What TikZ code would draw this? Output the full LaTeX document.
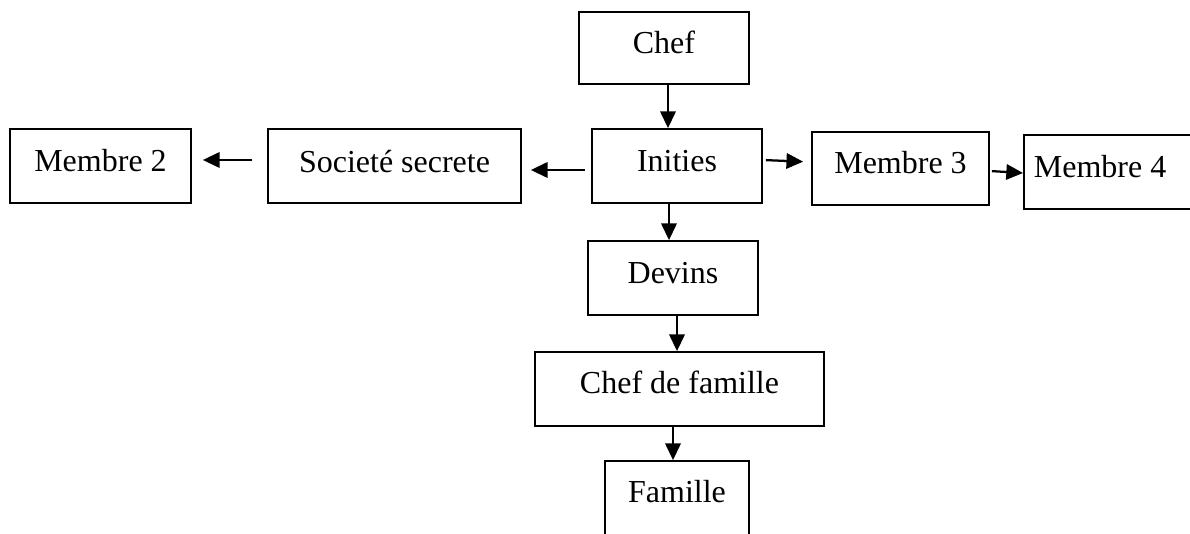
\documentclass[tikz,border=0pt]{standalone}
\usepackage{fontspec}
\setmainfont{Liberation Serif}
\usetikzlibrary{arrows.meta}
\begin{document}
\begin{tikzpicture}[x=0.75pt,y=-0.75pt,
  box/.style={draw,line width=1.3pt,inner sep=0pt,font=\fontsize{24}{28}\selectfont},
  arr/.style={line width=1.7pt,-{Triangle[length=12.5pt,width=11.5pt]}}]
\clip (0,0) rectangle (1190,534);
\node[box,minimum width=127.5pt,text height=31.5pt,text depth=22.5pt] (chef) at (664,48) {Chef};
\node[box,minimum width=127.5pt,text height=32.25pt,text depth=23.25pt] (inities) at (677,166) {Inities};
\node[box,minimum width=135.75pt,text height=32.25pt,text depth=23.25pt] (m2) at (100.5,166) {Membre 2};
\node[box,minimum width=189.75pt,text height=33pt,text depth=22.5pt] (soc) at (394.5,166) {Societé secrete};
\node[box,minimum width=132.75pt,text height=31.5pt,text depth=23.25pt] (m3) at (900.5,168.5) {Membre 3};
\node[box,anchor=north west,inner xsep=7.5pt,text height=32.25pt,text depth=23.25pt] (m4) at (1023,134) {\makebox[142.5pt][l]{Membre 4}};
\node[box,minimum width=127.5pt,text height=32.25pt,text depth=23.25pt] (devins) at (673,278) {Devins};
\node[box,minimum width=216.75pt,text height=31.5pt,text depth=24pt] (cdf) at (679.5,389) {Chef de famille};
\node[box,minimum width=108pt,text height=31.5pt,text depth=24pt] (famille) at (677,498) {Famille};
\draw[arr] (chef.south -| 668,0) -- (inities.north -| 668,0);
\draw[arr,shorten <=4.5pt,shorten >=6.75pt] (inities.west |- 0,170) -- (soc.east |- 0,170);
\draw[arr,shorten <=11.25pt,shorten >=8.25pt] (soc.west |- 0,160) -- (m2.east |- 0,160);
\draw[arr,shorten <=2.25pt,shorten >=6pt] (inities.east |- 0,160) -- (m3.west |- 0,162);
\draw[arr,shorten <=1.5pt] (m3.east |- 0,171) -- (m4.west |- 0,173);
\draw[arr] (inities.south -| 669,0) -- (devins.north -| 669,0);
\draw[arr] (devins.south -| 677,0) -- (cdf.north -| 677,0);
\draw[arr] (cdf.south -| 673,0) -- (famille.north -| 673,0);
\end{tikzpicture}
\end{document}
